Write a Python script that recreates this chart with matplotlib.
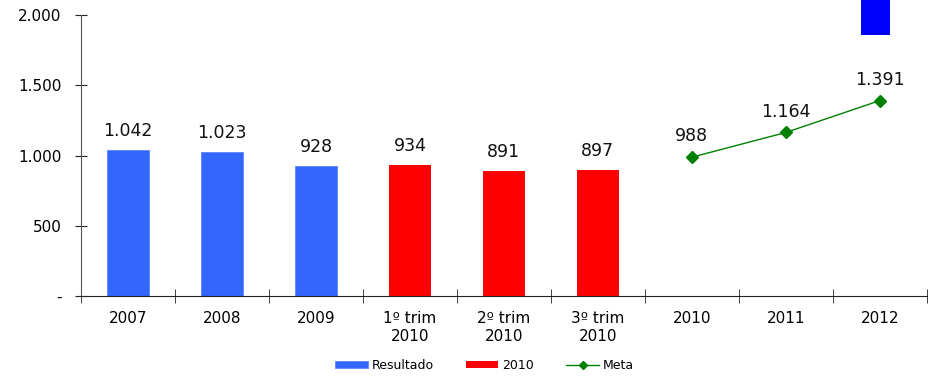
import numpy as np
import matplotlib.pyplot as plt

categories = ["2007", "2008", "2009", "1º trim\n2010", "2º trim\n2010",
              "3º trim\n2010", "2010", "2011", "2012"]
resultado = [1042, 1023, 928]
trim_2010 = [934, 891, 897]
meta = [988, 1164, 1391]
# stray blue block drawn above the plot at 2012
extra_bottom = 1858
extra_top = 2110

fig = plt.figure(figsize=(9.39, 3.76), dpi=100)
ax = fig.add_axes([0.0863, 0.2128, 0.9007, 0.7472])

x = np.arange(len(categories))
x_res = x[0:3]
x_trim = x[3:6]
x_meta = x[6:9]

h_res = ax.bar(x_res, resultado, width=0.44, color="#3366ff",
               edgecolor="#5b86ff", linewidth=0.6, label="Resultado")
h_trim = ax.bar(x_trim, trim_2010, width=0.44, color="#ff0000", label="2010")
h_meta, = ax.plot(x_meta, meta, color="#008000", marker="D", markersize=6,
                  linewidth=1, label="Meta")
ax.bar(x[8] - 0.05, extra_top - extra_bottom, bottom=extra_bottom, width=0.31,
       color="#0000ff", clip_on=False)


def fmt(v):
    return "{:,}".format(v).replace(",", ".")


for xi, v in zip(list(x_res) + list(x_trim), resultado + trim_2010):
    ax.text(xi, v + 70, fmt(v), ha="center", va="bottom", fontsize=12.5,
            color="#111111")
for xi, v in zip(x_meta, meta):
    ax.text(xi, v + 85, fmt(v), ha="center", va="bottom", fontsize=12.5,
            color="#111111")

ax.set_xlim(-0.5, len(categories) - 0.5)
ax.set_ylim(0, 2000)
ax.set_yticks([0, 500, 1000, 1500, 2000])
ax.set_yticklabels(["-", "500", "1.000", "1.500", "2.000"])
ax.set_xticks(x)
ax.set_xticklabels(categories)
ax.set_xticks(np.arange(len(categories) + 1) - 0.5, minor=True)
ax.tick_params(axis="x", which="major", length=0, labelsize=11, pad=11)
ax.tick_params(axis="x", which="minor", length=10, direction="inout",
               color="#222222")
ax.tick_params(axis="y", length=8, direction="inout", labelsize=11,
               color="#222222", pad=10)
for lab in ax.get_xticklabels():
    lab.set_linespacing(1.25)

for s in ["top", "right"]:
    ax.spines[s].set_visible(False)
ax.spines["left"].set_color("#555555")
ax.spines["bottom"].set_color("#222222")

ax.legend(handles=[h_res, h_trim, h_meta], loc="upper center",
          bbox_to_anchor=(0.477, -0.185), ncol=3, frameon=False, fontsize=9,
          handlelength=2.6, handleheight=0.5, columnspacing=2.6,
          handletextpad=0.3, markerscale=0.7)

plt.savefig("out.png", dpi=100)
